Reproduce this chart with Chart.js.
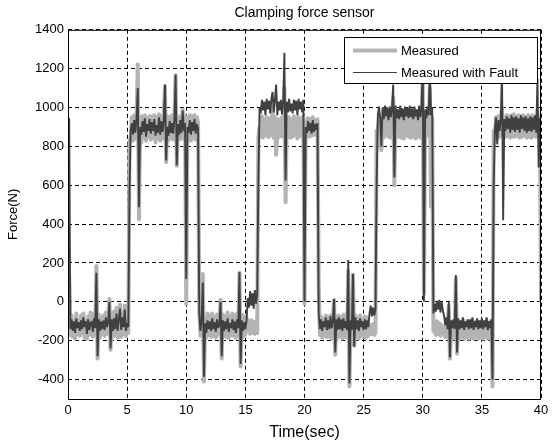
<!DOCTYPE html>
<html>
<head>
<meta charset="utf-8">
<title>Clamping force sensor</title>
<script src="https://cdn.jsdelivr.net/npm/chart.js@4.4.1/dist/chart.umd.min.js"></script>
<style>
  html, body { margin: 0; padding: 0; background: #fff; }
  #chart { display: block; }
</style>
</head>
<body>
<canvas id="chart" width="557" height="444"></canvas>
<script>
// ====== DATA ======
// one sample every 0.1 sec, t = 0 .. 40 (one row per second)
const sampleStep = 0.1;
const xTicks = [0, 5, 10, 15, 20, 25, 30, 35, 40];
const yTicks = [-400, -200, 0, 200, 400, 600, 800, 1000, 1200, 1400];

const measured = [
  150, 130, -170, -70, -180, -110, -190, -60, -165, -95,
  -175, -70, -160, -60, -185, -100, -190, -75, -170, -55,
  -60, -180, -70, -170, 185, -292, -65, -185, -80, -165,
  -70, -175, -55, -165, -90, 15, -246, -60, -180, -50,
  -170, -30, -185, -70, -15, -180, -60, -165, -20, -175,
  -80, -160, 820, 850, 950, 830, 960, 840, 945, 1222,
  425, 950, 820, 955, 845, 960, 830, 945, 850, 955,
  835, 955, 845, 960, 820, 950, 840, 965, 830, 955,
  840, 960, 1110, 720, 955, 830, 950, 845, 960, 835,
  960, 1165, 700, 950, 835, 955, 840, 990, 850, 955,
  -10, 950, 840, 960, 830, 955, 845, 960, 835, 950,
  920, -40, -175, -70, 143, -410, -80, -185, -60, -170,
  -70, -180, -60, -175, -80, -185, -65, -170, -90, 10,
  -292, -65, -175, -75, -180, -55, -185, -80, -170, -60,
  -175, -70, -185, -60, -170, 150, -333, -65, -180, -75,
  -170, -80, -150, -100, -165, -95, -160, -105, -165, -100,
  -160, 850, 900, 850, 955, 845, 940, 860, 950, 850,
  850, 945, 860, 1000, 845, 950, 757, 855, 940, 850,
  860, 950, 850, 1100, 513, 940, 855, 950, 845, 935,
  850, 955, 860, 945, 840, 950, 855, 940, 850, 955,
  -10, 930, 860, 945, 850, 940, 855, 950, 860, 935,
  860, 940, 100, -170, -75, -185, -90, -175, -70, -180,
  -80, -180, -70, -190, -90, 10, -272, -75, -185, -70,
  -175, -80, -190, -65, -180, -90, -185, 160, -436, -75,
  -185, 140, -225, -70, -180, -85, -190, -70, -175, -90,
  -180, -75, -185, -80, -175, -150, -120, -165, -115, -170,
  -160, 880, 880, 950, 850, 780, 945, 845, 950, 860,
  945, 850, 950, 845, 940, 1050, 600, 955, 850, 945,
  850, 950, 845, 945, 840, 955, 855, 945, 850, 955,
  845, 945, 850, 955, 840, 950, 855, 945, 845, 950,
  1150, 40, 950, 850, 945, 860, 1100, 490, 950, -150,
  -130, -170, -100, -165, -110, -175, -120, -160, -150, -180,
  -105, -180, -20, -292, -110, -190, -100, -185, 120, -267,
  -100, -190, -110, -180, -95, -190, -115, -185, -100, -190,
  -110, -185, -95, -190, -105, -180, -100, -190, -110, -185,
  -100, -190, -110, -180, -95, -190, -115, -185, -100, -436,
  880, 860, 950, 840, 955, 850, 950, 1000, 860, 945,
  850, 960, 855, 955, 845, 960, 850, 965, 850, 955,
  855, 960, 845, 955, 850, 960, 855, 950, 845, 960,
  850, 955, 845, 960, 855, 950, 850, 980, 860, 955,
  0
];

const measuredFault = [
  950, 940, -140, -90, -150, -100, -160, -85, -135, -105,
  -150, -95, -140, -80, -130, -100, -165, -90, -145, -110,
  -100, -155, -85, -135, 150, -280, -90, -150, -100, -140,
  -95, -145, -80, -130, -105, 0, -240, -90, -150, -85,
  -140, -60, -150, -90, -35, -145, -80, -130, -40, -150,
  -110, -130, 560, 880, 920, 860, 935, 870, 950, 1100,
  487, 900, 860, 930, 875, 945, 850, 915, 880, 940,
  865, 925, 880, 940, 855, 910, 870, 950, 860, 930,
  875, 935, 1118, 728, 900, 855, 930, 870, 920, 865,
  940, 1170, 703, 915, 860, 935, 870, 985, 880, 920,
  118, 900, 870, 935, 860, 925, 880, 940, 865, 915,
  890, -60, -150, -90, 100, -385, -110, -160, -95, -140,
  -100, -150, -85, -140, -105, -155, -90, -135, -115, 0,
  -280, -95, -150, -100, -140, -85, -155, -110, -135, -90,
  -145, -100, -160, -90, -135, 153, -320, -95, -150, -105,
  -140, -95, 20, -30, 55, -20, 45, -35, 60, -10,
  40, 620, 1000, 970, 1040, 985, 1030, 960, 1045, 990,
  1035, 970, 1045, 1080, 975, 1040, 1118, 960, 1030, 985,
  1040, 965, 1035, 1282, 625, 1030, 975, 1045, 980, 1020,
  970, 1040, 985, 1035, 960, 1045, 990, 1030, 975, 1040,
  0, 900, 870, 930, 880, 920, 865, 935, 875, 915,
  885, 920, -60, -140, -90, -150, -100, -130, -80, -145,
  -95, -140, -75, -135, -100, 15, -260, -90, -145, -80,
  -140, -90, -150, -85, -135, -100, -145, 215, -420, -95,
  -145, 143, -231, -80, -140, -95, -150, -85, -130, -100,
  -145, -90, -140, -95, -130, -60, -20, -75, -30, -70,
  -40, 600, 960, 1005, 945, 800, 1000, 940, 1010, 955,
  1000, 935, 1005, 950, 995, 1118, 640, 1010, 945, 990,
  940, 1010, 950, 995, 935, 1005, 955, 1000, 945, 1010,
  950, 995, 940, 1005, 955, 990, 935, 1010, 950, 1000,
  1250, 0, 990, 945, 1005, 960, 1200, 960, 1000, -60,
  -10, -50, 5, -40, 10, -55, 0, -45, -70, -120,
  -80, -140, 0, -285, -95, -135, -90, -140, 138, -260,
  -85, -140, -95, -135, -80, -145, -100, -130, -90, -140,
  -90, -135, -80, -145, -100, -130, -85, -140, -95, -135,
  -85, -140, -95, -130, -80, -145, -100, -135, -90, -400,
  600, 890, 950, 810, 935, 880, 945, 1200, 420, 940,
  880, 955, 890, 945, 870, 960, 885, 950, 875, 955,
  885, 945, 870, 960, 890, 950, 880, 955, 870, 945,
  880, 955, 875, 950, 885, 960, 870, 1150, 692, 945,
  890
];

// ====== HELPERS ======
const toPoints = arr => arr.map((v, i) => ({ x: Math.round(i * sampleStep * 10) / 10, y: v }));
const fontFamily = "'Liberation Sans', Arial, sans-serif";

// frame round the axes + matlab style legend box inside the plot
const frameAndLegend = {
  id: "frameAndLegend",
  afterDraw(chart) {
    const { ctx, chartArea } = chart;
    ctx.save();
    ctx.strokeStyle = "#000";
    ctx.lineWidth = 1;
    ctx.strokeRect(chartArea.left + 0.5, chartArea.top + 0.5,
      chartArea.right - chartArea.left - 1, chartArea.bottom - chartArea.top);

    const w = 193, h = 46;
    const left = Math.round(chartArea.right - 4 - w), top = Math.round(chartArea.top + 7);
    ctx.fillStyle = "#fff";
    ctx.fillRect(left, top, w, h);
    ctx.strokeRect(left + 0.5, top + 0.5, w, h);

    ctx.font = "13px " + fontFamily;
    ctx.textBaseline = "middle";
    chart.data.datasets.forEach((ds, k) => {
      const y = top + 13 + k * 22;
      ctx.strokeStyle = ds.borderColor;
      ctx.lineWidth = ds.legendWidth;
      ctx.beginPath();
      ctx.moveTo(left + 9, y + 0.5);
      ctx.lineTo(left + 53, y + 0.5);
      ctx.stroke();
      ctx.fillStyle = "#000";
      ctx.fillText(ds.label, left + 57, y + 1);
    });
    ctx.restore();
  }
};

// ====== CHART ======
const ctx = document.getElementById("chart").getContext("2d");
new Chart(ctx, {
  type: "line",
  data: {
    datasets: [
      {
        label: "Measured",
        data: toPoints(measured),
        borderColor: "#b3b3b3",
        borderWidth: 4,
        legendWidth: 4,
        borderJoinStyle: "round",
        pointRadius: 0,
        tension: 0,
        order: 1
      },
      {
        label: "Measured with Fault",
        data: toPoints(measuredFault),
        borderColor: "#404040",
        borderWidth: 1.9,
        legendWidth: 1,
        borderJoinStyle: "bevel",
        pointRadius: 0,
        tension: 0,
        order: 0
      }
    ]
  },
  options: {
    responsive: false,
    animation: false,
    layout: { padding: { top: 0, right: 16, bottom: 0, left: 0 } },
    plugins: {
      legend: { display: false },
      tooltip: { enabled: false },
      title: {
        display: true,
        fullSize: false,
        text: "Clamping force sensor",
        color: "#000",
        font: { family: fontFamily, size: 14, weight: "normal" },
        padding: { top: 5, bottom: 8 }
      }
    },
    scales: {
      x: {
        type: "linear",
        min: 0,
        max: 40,
        afterBuildTicks: scale => { scale.ticks = xTicks.map(v => ({ value: v })); },
        afterFit: scale => { scale.height = 45; },
        ticks: {
          color: "#000",
          padding: 4,
          maxRotation: 0,
          callback: v => String(v),
          font: { family: fontFamily, size: 13 }
        },
        grid: { color: "#000", lineWidth: 1, drawTicks: false },
        border: { display: false, dash: [4, 3] },
        title: {
          display: true,
          text: "Time(sec)",
          color: "#000",
          font: { family: fontFamily, size: 16 },
          padding: { top: 0, bottom: 2 }
        }
      },
      y: {
        type: "linear",
        min: -500,
        max: 1400,
        afterBuildTicks: scale => { scale.ticks = yTicks.map(v => ({ value: v })); },
        afterFit: scale => { scale.width = 68; },
        ticks: {
          color: "#000",
          padding: 4,
          callback: v => String(v),
          font: { family: fontFamily, size: 13 }
        },
        grid: { color: "#000", lineWidth: 1, drawTicks: false },
        border: { display: false, dash: [4, 3] },
        title: {
          display: true,
          text: "Force(N)",
          color: "#000",
          font: { family: fontFamily, size: 13 },
          padding: { top: 6, bottom: 0 }
        }
      }
    }
  },
  plugins: [frameAndLegend]
});
</script>
</body>
</html>
